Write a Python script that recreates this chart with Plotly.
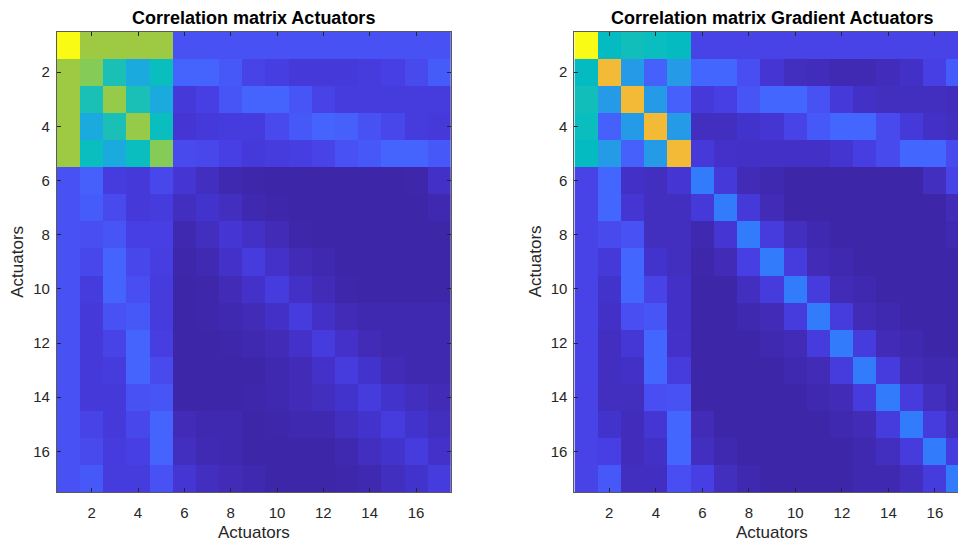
import plotly.graph_objects as go

# ---- data -----------------------------------------------------------------
actuators = list(range(1, 18))
tick_vals = [2, 4, 6, 8, 10, 12, 14, 16]

# Correlation matrix of the actuator signals (rows/cols = actuator index)
corr_actuators = [
    [1.00, 0.70, 0.70, 0.70, 0.70, 0.14, 0.14, 0.14, 0.14, 0.14, 0.14, 0.14, 0.14, 0.14, 0.14, 0.14, 0.14],
    [0.70, 0.67, 0.51, 0.40, 0.49, 0.19, 0.19, 0.16, 0.10, 0.085, 0.07, 0.07, 0.07, 0.08, 0.09, 0.12, 0.17],
    [0.70, 0.51, 0.69, 0.51, 0.40, 0.07, 0.09, 0.15, 0.19, 0.19, 0.15, 0.10, 0.08, 0.08, 0.08, 0.075, 0.075],
    [0.70, 0.40, 0.51, 0.69, 0.49, 0.06, 0.07, 0.08, 0.08, 0.12, 0.16, 0.19, 0.18, 0.14, 0.11, 0.08, 0.07],
    [0.70, 0.49, 0.40, 0.49, 0.67, 0.12, 0.11, 0.09, 0.07, 0.075, 0.085, 0.10, 0.14, 0.16, 0.19, 0.19, 0.16],
    [0.14, 0.18, 0.08, 0.07, 0.11, 0.06, 0.03, 0.01, 0.005, 0.0, 0.0, 0.0, 0.0, 0.0, 0.0, 0.005, 0.04],
    [0.14, 0.17, 0.12, 0.07, 0.08, 0.03, 0.05, 0.03, 0.01, 0.005, 0.0, 0.0, 0.0, 0.0, 0.0, 0.0, 0.01],
    [0.14, 0.13, 0.15, 0.09, 0.09, 0.01, 0.03, 0.06, 0.04, 0.02, 0.005, 0.0, 0.0, 0.0, 0.0, 0.0, 0.0],
    [0.14, 0.11, 0.19, 0.11, 0.085, 0.005, 0.015, 0.045, 0.08, 0.045, 0.02, 0.01, 0.0, 0.0, 0.0, 0.0, 0.0],
    [0.14, 0.08, 0.19, 0.13, 0.08, 0.0, 0.005, 0.02, 0.045, 0.075, 0.04, 0.02, 0.005, 0.0, 0.0, 0.0, 0.0],
    [0.14, 0.07, 0.14, 0.16, 0.08, 0.0, 0.005, 0.01, 0.02, 0.04, 0.075, 0.04, 0.02, 0.01, 0.01, 0.01, 0.01],
    [0.14, 0.07, 0.10, 0.19, 0.085, 0.0, 0.0, 0.005, 0.01, 0.02, 0.045, 0.08, 0.045, 0.02, 0.01, 0.01, 0.01],
    [0.14, 0.07, 0.08, 0.19, 0.12, 0.0, 0.0, 0.0, 0.0, 0.01, 0.02, 0.045, 0.08, 0.05, 0.02, 0.01, 0.01],
    [0.14, 0.07, 0.07, 0.14, 0.15, 0.0, 0.0, 0.0, 0.005, 0.01, 0.02, 0.03, 0.05, 0.08, 0.05, 0.03, 0.02],
    [0.14, 0.10, 0.07, 0.11, 0.19, 0.02, 0.01, 0.01, 0.0, 0.005, 0.01, 0.01, 0.03, 0.05, 0.08, 0.05, 0.03],
    [0.14, 0.12, 0.08, 0.09, 0.19, 0.03, 0.015, 0.01, 0.0, 0.0, 0.0, 0.0, 0.01, 0.03, 0.05, 0.08, 0.045],
    [0.14, 0.16, 0.08, 0.08, 0.14, 0.06, 0.03, 0.02, 0.01, 0.0, 0.0, 0.0, 0.005, 0.01, 0.03, 0.05, 0.08],
]

# Correlation matrix of the actuator gradients
corr_gradient = [
    [1.00, 0.48, 0.50, 0.49, 0.48, 0.10, 0.10, 0.10, 0.10, 0.10, 0.10, 0.10, 0.10, 0.10, 0.10, 0.10, 0.10],
    [0.48, 0.815, 0.35, 0.18, 0.35, 0.20, 0.20, 0.13, 0.06, 0.03, 0.025, 0.015, 0.015, 0.025, 0.04, 0.09, 0.17],
    [0.50, 0.35, 0.815, 0.35, 0.18, 0.07, 0.09, 0.15, 0.20, 0.20, 0.14, 0.07, 0.04, 0.03, 0.03, 0.03, 0.025],
    [0.49, 0.18, 0.35, 0.815, 0.35, 0.03, 0.03, 0.05, 0.06, 0.10, 0.16, 0.20, 0.20, 0.12, 0.07, 0.04, 0.03],
    [0.48, 0.35, 0.18, 0.35, 0.815, 0.07, 0.045, 0.04, 0.04, 0.04, 0.04, 0.055, 0.085, 0.12, 0.20, 0.20, 0.12],
    [0.10, 0.20, 0.04, 0.03, 0.06, 0.255, 0.07, 0.02, 0.01, 0.0, 0.0, 0.0, 0.0, 0.0, 0.0, 0.03, 0.10],
    [0.10, 0.20, 0.06, 0.03, 0.03, 0.07, 0.255, 0.07, 0.02, 0.0, 0.0, 0.0, 0.0, 0.0, 0.0, 0.0, 0.02],
    [0.10, 0.12, 0.14, 0.03, 0.03, 0.01, 0.06, 0.255, 0.08, 0.03, 0.01, 0.0, 0.0, 0.0, 0.0, 0.0, 0.01],
    [0.10, 0.07, 0.20, 0.05, 0.03, 0.005, 0.02, 0.09, 0.255, 0.08, 0.02, 0.01, 0.0, 0.0, 0.0, 0.0, 0.0],
    [0.10, 0.05, 0.20, 0.10, 0.04, 0.0, 0.0, 0.03, 0.08, 0.255, 0.08, 0.02, 0.01, 0.0, 0.0, 0.0, 0.0],
    [0.10, 0.04, 0.13, 0.15, 0.04, 0.0, 0.0, 0.01, 0.02, 0.08, 0.255, 0.08, 0.02, 0.01, 0.0, 0.0, 0.0],
    [0.10, 0.035, 0.065, 0.20, 0.045, 0.0, 0.0, 0.0, 0.01, 0.02, 0.08, 0.255, 0.08, 0.02, 0.01, 0.0, 0.0],
    [0.10, 0.035, 0.04, 0.20, 0.075, 0.0, 0.0, 0.0, 0.0, 0.01, 0.02, 0.08, 0.255, 0.08, 0.02, 0.01, 0.01],
    [0.10, 0.03, 0.03, 0.13, 0.14, 0.0, 0.0, 0.0, 0.0, 0.0, 0.01, 0.02, 0.08, 0.255, 0.08, 0.03, 0.01],
    [0.10, 0.05, 0.025, 0.06, 0.20, 0.02, 0.0, 0.0, 0.0, 0.0, 0.0, 0.01, 0.02, 0.08, 0.255, 0.08, 0.03],
    [0.10, 0.09, 0.025, 0.04, 0.20, 0.03, 0.01, 0.0, 0.0, 0.0, 0.0, 0.0, 0.01, 0.03, 0.08, 0.255, 0.08],
    [0.10, 0.16, 0.03, 0.035, 0.13, 0.09, 0.03, 0.01, 0.0, 0.0, 0.0, 0.0, 0.01, 0.01, 0.03, 0.08, 0.255],
]

# MATLAB parula (64 levels)
PARULA_RGB = [
    (0.2422, 0.1504, 0.6603), (0.2504, 0.1650, 0.7076), (0.2578, 0.1818, 0.7511), (0.2647, 0.1978, 0.7952),
    (0.2706, 0.2147, 0.8364), (0.2751, 0.2342, 0.8710), (0.2783, 0.2559, 0.8991), (0.2803, 0.2782, 0.9221),
    (0.2813, 0.3006, 0.9414), (0.2810, 0.3228, 0.9579), (0.2795, 0.3447, 0.9717), (0.2760, 0.3667, 0.9829),
    (0.2699, 0.3892, 0.9906), (0.2602, 0.4123, 0.9952), (0.2440, 0.4358, 0.9988), (0.2206, 0.4603, 0.9973),
    (0.1963, 0.4847, 0.9892), (0.1834, 0.5074, 0.9798), (0.1786, 0.5289, 0.9682), (0.1764, 0.5499, 0.9520),
    (0.1687, 0.5703, 0.9359), (0.1540, 0.5902, 0.9218), (0.1460, 0.6091, 0.9079), (0.1380, 0.6276, 0.8973),
    (0.1248, 0.6459, 0.8883), (0.1113, 0.6635, 0.8763), (0.0952, 0.6798, 0.8598), (0.0689, 0.6948, 0.8394),
    (0.0297, 0.7082, 0.8163), (0.0036, 0.7203, 0.7917), (0.0067, 0.7312, 0.7660), (0.0433, 0.7411, 0.7394),
    (0.0964, 0.7500, 0.7120), (0.1408, 0.7584, 0.6842), (0.1717, 0.7670, 0.6554), (0.1938, 0.7758, 0.6251),
    (0.2161, 0.7843, 0.5923), (0.2470, 0.7918, 0.5567), (0.2906, 0.7973, 0.5188), (0.3406, 0.8008, 0.4789),
    (0.3909, 0.8029, 0.4354), (0.4456, 0.8024, 0.3909), (0.5044, 0.7993, 0.3480), (0.5616, 0.7942, 0.3045),
    (0.6174, 0.7876, 0.2612), (0.6720, 0.7793, 0.2227), (0.7242, 0.7698, 0.1910), (0.7738, 0.7598, 0.1646),
    (0.8203, 0.7498, 0.1535), (0.8634, 0.7406, 0.1596), (0.9035, 0.7330, 0.1774), (0.9393, 0.7288, 0.2100),
    (0.9728, 0.7298, 0.2394), (0.9956, 0.7434, 0.2371), (0.9970, 0.7659, 0.2199), (0.9952, 0.7893, 0.2028),
    (0.9892, 0.8136, 0.1885), (0.9786, 0.8386, 0.1766), (0.9676, 0.8639, 0.1643), (0.9610, 0.8890, 0.1537),
    (0.9597, 0.9135, 0.1423), (0.9628, 0.9373, 0.1265), (0.9691, 0.9606, 0.1064), (0.9769, 0.9839, 0.0805),
]
n = len(PARULA_RGB)
parula = [
    [i / (n - 1), "rgb({:d},{:d},{:d})".format(round(r * 255), round(g * 255), round(b * 255))]
    for i, (r, g, b) in enumerate(PARULA_RGB)
]

# ---- layout geometry (pixels) ---------------------------------------------
W, H = 958, 544
AX1_X0, AX1_X1 = 56.9, 450.8
AX2_X0, AX2_X1 = 574.4, 969.8          # right axes runs past the page edge
Y_TOP, Y_BOT = 31.5, 492.0
cell2 = (AX2_X1 - AX2_X0) / 17.0
x2_end = 0.5 + (W - AX2_X0) / cell2     # visible part of the right axes

FONT = "Liberation Sans, Arial, Helvetica, sans-serif"
TXT = "#262626"
LINE = "#5a5a5a"


def px(x):
    return x / W


def py(y):
    return 1 - y / H


fig = go.Figure()
fig.add_trace(go.Heatmap(
    z=corr_actuators, x=actuators, y=actuators, colorscale=parula,
    showscale=False, xaxis="x", yaxis="y", hoverongaps=False,
))
fig.add_trace(go.Heatmap(
    z=corr_gradient, x=actuators, y=actuators, colorscale=parula,
    showscale=False, xaxis="x2", yaxis="y2", hoverongaps=False,
))

axis_common = dict(
    tickmode="array", tickvals=tick_vals, ticktext=[str(v) for v in tick_vals],
    ticks="inside", ticklen=4, tickwidth=1, tickcolor=TXT,
    showline=True, linecolor=LINE, linewidth=1,
    showgrid=False, zeroline=False,
    tickfont=dict(family=FONT, size=15, color=TXT),
    automargin=False,
)

fig.update_layout(
    width=W, height=H,
    margin=dict(l=0, r=0, t=0, b=0),
    paper_bgcolor="white", plot_bgcolor="white",
    showlegend=False,
    xaxis=dict(axis_common, domain=[px(AX1_X0), px(AX1_X1)], range=[0.5, 17.5],
               anchor="y", mirror="ticks", ticklabelstandoff=7),
    yaxis=dict(axis_common, domain=[py(Y_BOT), py(Y_TOP)], range=[17.5, 0.5],
               anchor="x", mirror="ticks", ticklabelstandoff=3),
    xaxis2=dict(axis_common, domain=[px(AX2_X0), 1.0], range=[0.5, x2_end],
                anchor="y2", mirror="ticks", ticklabelstandoff=7),
    yaxis2=dict(axis_common, domain=[py(Y_BOT), py(Y_TOP)], range=[17.5, 0.5],
                anchor="x2", mirror=False, ticklabelstandoff=3),
)

# titles and axis labels
c1 = (AX1_X0 + AX1_X1) / 2
c2 = (AX2_X0 + AX2_X1) / 2
cy = (Y_TOP + Y_BOT) / 2
notes = [
    dict(text="<b>Correlation matrix Actuators</b>", x=px(c1), y=py(17.5), size=18, color="#000000", angle=0),
    dict(text="<b>Correlation matrix Gradient Actuators</b>", x=px(c2), y=py(17.5), size=18, color="#000000", angle=0),
    dict(text="Actuators", x=px(c1), y=py(532), size=17, color=TXT, angle=0),
    dict(text="Actuators", x=px(c2), y=py(532), size=17, color=TXT, angle=0),
    dict(text="Actuators", x=px(18), y=py(cy), size=17, color=TXT, angle=-90),
    dict(text="Actuators", x=px(AX2_X0 - (AX1_X0 - 18)), y=py(cy), size=17, color=TXT, angle=-90),
]
for a in notes:
    fig.add_annotation(
        text=a["text"], x=a["x"], y=a["y"], xref="paper", yref="paper",
        xanchor="center", yanchor="middle", showarrow=False, textangle=a["angle"],
        font=dict(family=FONT, size=a["size"], color=a["color"]),
    )

fig.write_html("out.html")
